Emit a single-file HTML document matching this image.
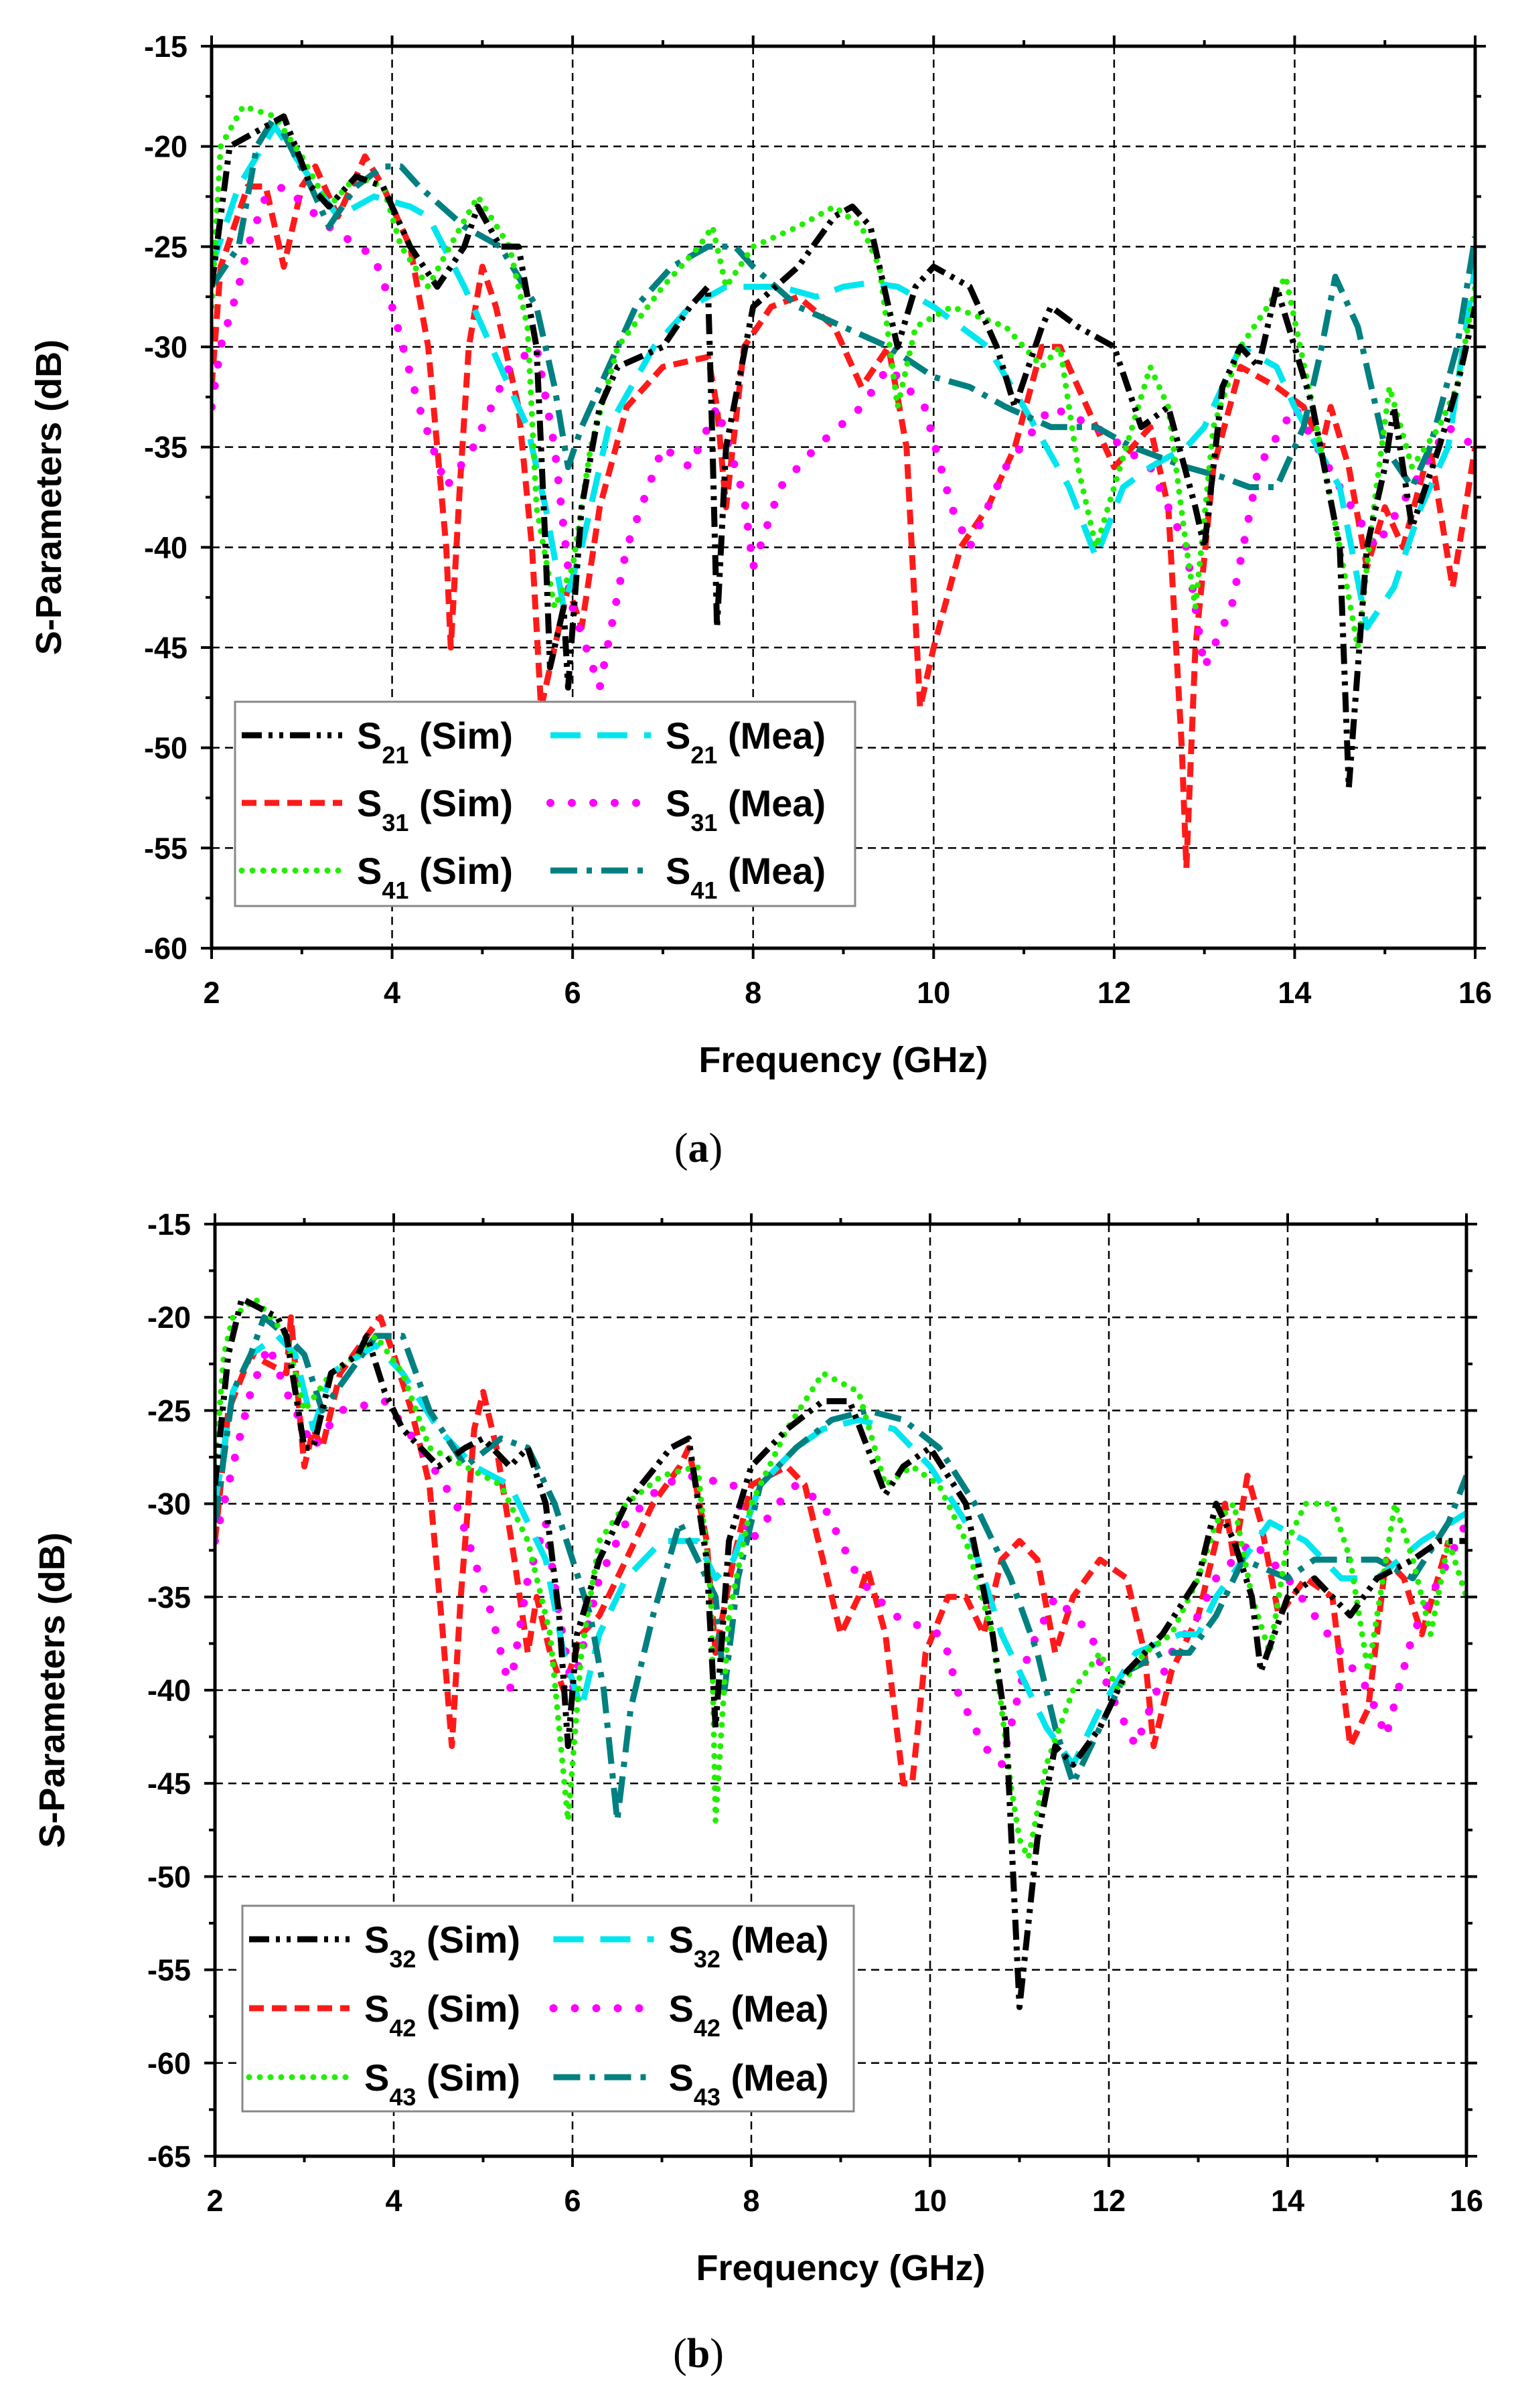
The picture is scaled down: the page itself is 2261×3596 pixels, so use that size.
<!DOCTYPE html>
<html><head><meta charset="utf-8">
<style>
html,body{margin:0;padding:0;background:#fff;}
svg{display:block;}
text{font-family:"Liberation Sans",Arial,sans-serif;font-weight:bold;}
</style></head>
<body>
<svg id="s" width="2261" height="3596" viewBox="0 0 2261 3596" xmlns="http://www.w3.org/2000/svg">
<rect width="2261" height="3596" fill="#fff"/>
<text x="1043" y="1735" font-size="62" text-anchor="middle" style="font-family:'Liberation Serif',serif;font-weight:normal">(<tspan font-weight="bold">a</tspan>)</text>
<text x="1043" y="3535" font-size="62" text-anchor="middle" style="font-family:'Liberation Serif',serif;font-weight:normal">(<tspan font-weight="bold">b</tspan>)</text>
</svg>
<script>
const NS="http://www.w3.org/2000/svg";
const svg=document.getElementById('s');
function el(t,a,p){const e=document.createElementNS(NS,t);for(const k in a)e.setAttribute(k,a[k]);(p||svg).appendChild(e);return e;}
const styles={
 blk:{stroke:"#000",w:9,d:"30 10 6 10 6 10",cap:"butt"},
 cya:{stroke:"#00e5ee",w:9,d:"45 25",cap:"butt"},
 red:{stroke:"#ff1a1a",w:9,d:"22 12",cap:"butt"},
 mag:{stroke:"#ff00ff",w:12,d:"0 32",cap:"round"},
 grn:{stroke:"#22ee00",w:9,d:"0 16",cap:"round"},
 tea:{stroke:"#008080",w:9,d:"40 14 8 14",cap:"butt"}
};
function P(s){const a=s.trim().split(/\s+/).map(Number);const r=[];for(let i=0;i<a.length;i+=2)r.push([a[i],a[i+1]]);return r;}
function plot(c){
 const X=f=>c.l+(f-2)/14*(c.r-c.l), Y=v=>c.t+(-15-v)/(c.ymin*-1-15)*(c.b-c.t);
 const g=el('g',{});
 for(let f=4;f<16;f+=2)el('line',{x1:X(f),x2:X(f),y1:c.t,y2:c.b,stroke:"#000","stroke-width":2.5,"stroke-dasharray":"12 8"},g);
 for(let v=-20;v>c.ymin;v-=5)el('line',{x1:c.l,x2:c.r,y1:Y(v),y2:Y(v),stroke:"#000","stroke-width":2.5,"stroke-dasharray":"12 8"},g);
 const id='c'+c.t;const cp=el('clipPath',{id:id},g);el('rect',{x:c.l,y:c.t,width:c.r-c.l,height:c.b-c.t},cp);
 const sg=el('g',{"clip-path":"url(#"+id+")"},g);
 for(const [k,s] of c.series){const st=styles[k];
  el('polyline',{points:P(s).map(p=>X(p[0]).toFixed(1)+","+Y(p[1]).toFixed(1)).join(" "),fill:"none",stroke:st.stroke,"stroke-width":st.w,"stroke-dasharray":st.d,"stroke-linecap":st.cap,"stroke-linejoin":"round"},sg);}
 el('rect',{x:c.l,y:c.t,width:c.r-c.l,height:c.b-c.t,fill:"none",stroke:"#000","stroke-width":5},g);
 for(let f=2;f<=16;f+=1){const L=f%2==0?16:9;el('line',{x1:X(f),x2:X(f),y1:c.b,y2:c.b+L,stroke:"#000","stroke-width":4},g);el('line',{x1:X(f),x2:X(f),y1:c.t,y2:c.t-L,stroke:"#000","stroke-width":4},g);
  if(f%2==0){const t=el('text',{x:X(f),y:c.b+82,"font-size":45,"text-anchor":"middle"},g);t.textContent=f;}}
 for(let v=-15;v>=c.ymin;v-=2.5){const L=v%5==0?16:9;el('line',{x1:c.l,x2:c.l-L,y1:Y(v),y2:Y(v),stroke:"#000","stroke-width":4},g);el('line',{x1:c.r,x2:c.r+L,y1:Y(v),y2:Y(v),stroke:"#000","stroke-width":4},g);
  if(v%5==0){const t=el('text',{x:c.l-36,y:Y(v)+16,"font-size":45,"text-anchor":"end"},g);t.textContent=v;}}
 const xt=el('text',{x:(c.l+c.r)/2,y:c.b+185,"font-size":54,"text-anchor":"middle"},g);xt.textContent="Frequency (GHz)";
 const yt=el('text',{x:0,y:0,"font-size":54,"text-anchor":"middle",transform:`translate(${c.l-225},${(c.t+c.b)/2}) rotate(-90)`},g);yt.textContent="S-Parameters (dB)";
 const L=c.leg;el('rect',{x:L.x,y:L.y,width:L.w,height:L.h,fill:"#fff",stroke:"#888","stroke-width":3},g);
 const cols=[L.x+10,L.x+L.w/2+8];
 L.items.forEach((it,i)=>{const col=i%2,row=Math.floor(i/2);const yy=L.y+50+row*L.rh;const x0=cols[col];const st=styles[it[0]];
  el('line',{x1:x0,x2:x0+150,y1:yy,y2:yy,stroke:st.stroke,"stroke-width":st.w,"stroke-dasharray":st.d,"stroke-linecap":st.cap},g);
  const t=el('text',{x:x0+172,y:yy+20,"font-size":56,"textLength":it[0]?265:0},g);
  t.removeAttribute('textLength');
  t.innerHTML=`S<tspan font-size="36" dy="22">${it[1]}</tspan><tspan dy="-22"> (${it[2]})</tspan>`;});
}
plot({l:316,r:2203,t:69,b:1416,ymin:-60,
 leg:{x:351,y:1048,w:926,h:305,rh:101,items:[["blk","21","Sim"],["cya","21","Mea"],["red","31","Sim"],["mag","31","Mea"],["grn","41","Sim"],["tea","41","Mea"]]},
 series:[
 ["red","2 -32 2.1 -26 2.4 -22 2.6 -22 2.8 -26 3.0 -22 3.15 -21 3.4 -23.5 3.6 -21.5 3.7 -20.5 3.9 -22 4.2 -25 4.4 -30 4.6 -40 4.65 -45 4.75 -37 4.85 -30 5.0 -26 5.15 -28 5.4 -33 5.55 -40 5.65 -48 5.8 -45 5.95 -42 6.1 -44 6.3 -38 6.6 -33 7 -31 7.5 -30.5 7.6 -33 7.7 -38 7.9 -30 8.2 -28 8.5 -27.5 8.9 -29 9.2 -32 9.5 -30 9.7 -35 9.85 -48 10.0 -45 10.3 -40 10.6 -38 10.9 -35 11.2 -30 11.4 -30 11.7 -33 12 -36 12.4 -34 12.6 -38 12.75 -50 12.8 -56 12.9 -45 13.1 -36 13.4 -31 13.8 -32 14.1 -33 14.3 -35 14.4 -33 14.6 -36 14.8 -41 15 -38 15.2 -40 15.5 -35 15.75 -42 16 -35"],
 ["mag","2 -33 2.1 -30 2.3 -27 2.4 -25 2.6 -22.5 2.8 -22 3.3 -24 3.8 -25.5 4.0 -28 4.3 -33 4.6 -37 4.9 -35 5.3 -31 5.6 -30 5.8 -35 6.0 -43 6.3 -47 6.6 -40 7.0 -35 7.3 -36 7.6 -33 7.9 -37.5 8.0 -41 8.3 -37 8.7 -35 9.2 -33 9.5 -31 9.9 -33 10.2 -38 10.4 -40 10.8 -36 11.3 -33 11.8 -34 12.4 -36 12.8 -40 13.0 -46 13.3 -43 13.6 -36 14.0 -33 14.5 -37 14.9 -40 15.3 -37 15.7 -34 16 -35"],
 ["cya","2 -26 2.3 -22 2.7 -19 3.0 -21 3.4 -23.5 3.8 -22.5 4.2 -23 4.4 -23.5 4.8 -27 5.2 -31 5.5 -34 5.7 -38 5.9 -43 6.1 -40 6.4 -34 6.9 -30 7.3 -28 7.7 -27 8.3 -27 8.7 -27.5 9.0 -27 9.3 -26.8 9.6 -27 10 -28 10.6 -30 11 -33 11.5 -37 11.8 -40.5 12.1 -37 12.4 -36 12.8 -35 13 -34 13.4 -30 13.8 -31 14 -33 14.5 -37 14.8 -44 15.1 -42 15.4 -38 15.7 -35 16 -26"],
 ["tea","2 -27 2.3 -25 2.5 -20 2.7 -18.5 3.1 -22 3.3 -24 3.6 -22 3.9 -21 4.1 -21 4.3 -22 4.8 -24 5.2 -25 5.6 -28 5.8 -32 5.95 -36 6.1 -34 6.4 -31 6.7 -28 7.1 -26 7.5 -25 7.8 -25 8.0 -26 8.5 -28 9.0 -29 9.5 -30 10 -31.5 10.4 -32 10.8 -33 11.3 -34 11.8 -34 12.2 -35 12.5 -35.5 12.8 -36 13.2 -36.5 13.5 -37 13.8 -37 14.1 -34 14.3 -30 14.45 -26.5 14.7 -29 15.0 -35 15.3 -37 15.5 -35 15.8 -30 16 -24.5"],
 ["grn","2 -28 2.1 -20 2.35 -18 2.7 -18.5 3.0 -20.5 3.3 -23 3.6 -21.5 3.9 -22 4.1 -25 4.4 -27 4.7 -24.5 4.95 -22.5 5.3 -25 5.5 -29 5.6 -38 5.8 -43 6.0 -41 6.2 -35 6.5 -30 7.0 -27 7.4 -25 7.55 -24 7.7 -27 8.0 -25 8.5 -24 8.9 -23 9.2 -24 9.4 -26 9.6 -33 9.8 -29 10.2 -28 10.8 -29 11.2 -31 11.4 -30 11.6 -36 11.8 -40 12.2 -34 12.4 -31 12.6 -33 12.8 -40 12.9 -43 13.1 -34 13.4 -30 13.7 -28 13.9 -26.5 14.2 -33 14.5 -40 14.7 -45 14.85 -39 15.05 -32 15.3 -36 15.6 -34 15.8 -32 16 -27"],
 ["blk","2 -27 2.2 -20 2.8 -18.5 3.1 -22 3.3 -23 3.6 -21.5 3.9 -22 4.2 -25 4.5 -27 4.8 -25 4.95 -23 5.2 -25 5.4 -25 5.6 -30 5.7 -40 5.75 -46 5.9 -43 5.95 -47 6.1 -38 6.3 -33 6.5 -31 7 -30 7.3 -28 7.5 -27 7.55 -35 7.6 -44 7.7 -35 8 -28 8.5 -26 8.9 -23.5 9.1 -23 9.3 -24 9.5 -28 9.6 -30 9.8 -27 10.0 -26 10.4 -27 10.7 -30 10.9 -33 11.2 -29 11.3 -28 11.6 -29 12 -30 12.3 -34 12.6 -33 12.9 -38 13 -40 13.2 -32 13.4 -30 13.6 -31 13.8 -27 14 -30 14.2 -33 14.5 -40 14.6 -52 14.8 -40 15 -36 15.1 -33 15.3 -39 15.6 -35 15.8 -32 16 -28"]
 ]});
plot({l:321,r:2190,t:1828,b:3220,ymin:-65,
 leg:{x:362,y:2846,w:913,h:307,rh:103,items:[["blk","32","Sim"],["cya","32","Mea"],["red","42","Sim"],["mag","42","Mea"],["grn","43","Sim"],["tea","43","Mea"]]},
 series:[
 ["red","2 -32 2.15 -25 2.4 -22 2.8 -23 2.85 -20 3.0 -28 3.1 -26 3.2 -27 3.4 -23 3.7 -21 3.85 -20 4.0 -22 4.2 -25 4.4 -29 4.55 -37 4.65 -43 4.75 -35 4.9 -26 5.0 -24 5.15 -27 5.35 -33 5.5 -38 5.6 -35 5.75 -38 5.9 -40 6.1 -37 6.3 -36 6.6 -33 6.9 -30 7.2 -28 7.3 -27 7.5 -32 7.6 -38 7.8 -33 8.0 -29 8.4 -28 8.6 -29 8.8 -33 9.0 -37 9.2 -35 9.3 -33.5 9.5 -37 9.7 -45 9.8 -45 9.95 -38 10.2 -35 10.4 -35 10.6 -37 10.8 -33 11.0 -32 11.2 -33 11.4 -38 11.6 -35 11.9 -33 12.2 -34 12.4 -38 12.5 -43 12.7 -39 13.0 -36 13.3 -30 13.4 -33 13.55 -28.5 13.7 -31 13.9 -36 14.2 -34 14.5 -35 14.7 -43 14.9 -41 15.1 -33 15.3 -34 15.5 -37 15.8 -32"],
 ["mag","2 -32 2.15 -29 2.3 -26 2.4 -24 2.6 -21.5 2.8 -24 3.0 -26 3.1 -27 3.4 -25 3.9 -24.5 4.3 -27 4.7 -30 4.9 -33 5.1 -36 5.3 -40 5.5 -34 5.7 -31 5.85 -36 6.0 -40 6.3 -34 6.6 -31 7.0 -29 7.3 -28.5 7.8 -29 8.0 -32 8.3 -30 8.5 -29 8.8 -30 9.2 -34 9.6 -36 10.1 -37 10.2 -38 10.3 -40 10.6 -43 10.8 -44 11.1 -38 11.4 -35 11.8 -37 12.0 -40 12.3 -43 12.7 -38 13.0 -36 13.2 -34 13.6 -32 14.0 -34 14.6 -38 14.9 -40 15.1 -42.5 15.4 -37 15.7 -34 16 -31"],
 ["cya","2 -30 2.2 -24 2.4 -22 2.7 -21 2.9 -22 3.1 -26 3.3 -23 3.8 -21.5 4.1 -23 4.5 -26 4.9 -28 5.3 -29 5.7 -33 5.9 -38 6.1 -41 6.3 -37 6.6 -34 7.0 -32 7.4 -32 7.6 -34 7.8 -33 8.1 -29 8.5 -27 8.8 -26 9.2 -25.5 9.6 -26 10.0 -28 10.4 -31 10.8 -37 11.1 -40 11.3 -42 11.6 -44 11.9 -41 12.3 -38 12.8 -37 13.0 -37 13.2 -35 13.5 -33 13.8 -31 14.2 -32 14.6 -34 15 -34 15.5 -32 16 -30.5"],
 ["tea","2 -31 2.2 -24 2.4 -22 2.55 -20 2.8 -21 3.0 -22 3.2 -25 3.5 -23 3.8 -21 4.1 -21 4.4 -25 4.8 -28 5.2 -26.5 5.5 -27 5.8 -30 6.0 -33 6.2 -36 6.35 -40 6.5 -47 6.65 -41 6.9 -36 7.2 -31 7.4 -33 7.6 -35 7.7 -40 7.85 -34 8.1 -29 8.5 -27 8.9 -25.5 9.3 -25 9.7 -25.5 10.1 -27 10.5 -30 10.9 -34 11.2 -38 11.4 -42 11.6 -45 11.9 -42 12.2 -39 12.6 -38 12.9 -38 13.2 -36 13.5 -33 14.0 -34 14.3 -33 14.6 -33 15.0 -33 15.4 -34 15.8 -31 16 -28.5"],
 ["grn","2 -28 2.1 -22 2.2 -20 2.45 -19 2.8 -21 3.0 -25 3.3 -23 3.6 -22 3.8 -21 4.1 -23 4.4 -27 4.8 -28 5.2 -29 5.5 -32 5.75 -37 5.95 -47 6.1 -38 6.3 -32 6.6 -30 7.0 -28.5 7.4 -28 7.55 -35 7.6 -47 7.75 -36 8.0 -30 8.4 -26 8.8 -23 9.2 -24 9.5 -29 9.8 -28 10.1 -29 10.4 -32 10.7 -37 10.9 -45 11.0 -48 11.1 -49 11.3 -44 11.6 -40 11.9 -38 12.1 -40 12.4 -38 12.7 -37 13.0 -34 13.2 -31 13.4 -30 13.6 -35 13.8 -38 14.0 -32 14.2 -30 14.5 -30 14.7 -33 14.9 -39 15.2 -30 15.4 -33 15.6 -37 15.8 -32 16 -35"],
 ["blk","2 -29 2.15 -22 2.3 -19 2.7 -20 2.8 -21 3.0 -27 3.1 -27 3.3 -23 3.6 -22 3.7 -21 3.9 -24 4.1 -26 4.5 -28 4.8 -27 5.0 -26.5 5.3 -28 5.5 -27 5.7 -30 5.85 -36 5.95 -43 6.05 -37 6.3 -33 6.6 -30 7.1 -27 7.3 -26.5 7.5 -33 7.6 -42 7.75 -32 8 -28 8.4 -26 8.8 -24.5 9.1 -24.5 9.3 -27 9.5 -29.5 9.7 -28 10 -27 10.4 -30 10.7 -37 10.85 -42 10.95 -52 11.0 -57 11.2 -48 11.4 -43 11.6 -44 11.9 -42 12.2 -39 12.6 -37 13 -34 13.2 -30 13.4 -32 13.6 -35 13.7 -39 14.0 -35 14.3 -34 14.7 -36 15 -34 15.4 -33 15.7 -32 16 -32"]
 ]});
</script>
</body></html>
